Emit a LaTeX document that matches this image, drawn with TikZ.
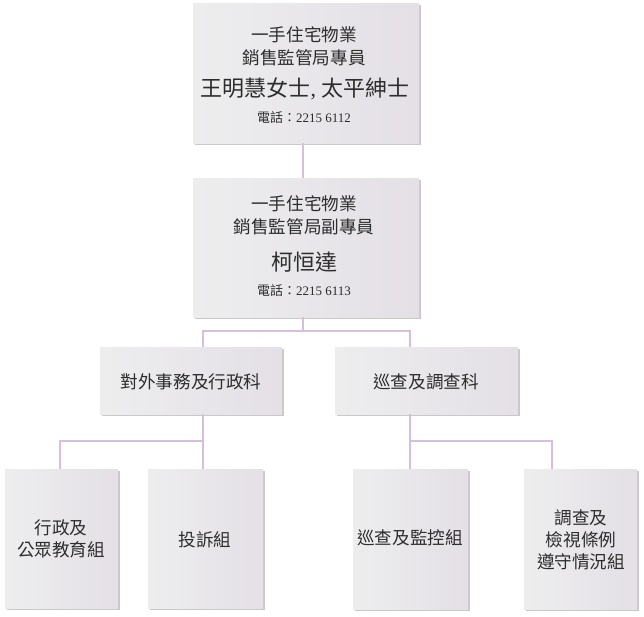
\documentclass[tikz,border=0pt]{standalone}
\usepackage{fontspec}
\setmainfont{Liberation Serif}
\newfontfamily\cjk{Noto Sans CJK TC}
\usetikzlibrary{shadows}
\definecolor{conn}{RGB}{214,190,220}
\definecolor{boxl}{RGB}{237,237,238}
\definecolor{boxr}{RGB}{228,224,230}
\definecolor{txt}{RGB}{45,45,45}
\tikzset{
  orgbox/.style={rectangle, anchor=north west, inner sep=0pt, left color=boxl, right color=boxr,
    drop shadow={shadow xshift=1.5pt, shadow yshift=-1.5pt, opacity=0.3, fill=black!70}},
  lbl/.style={text=txt, align=center, inner sep=0pt, font=\cjk\fontsize{17.6}{22}\selectfont},
  big/.style={text=txt, inner sep=0pt, font=\cjk\fontsize{22}{24}\selectfont},
  tel/.style={text=txt, inner sep=0pt, font=\fontsize{13}{15}\selectfont},
  link/.style={draw=conn, line width=2pt}
}
\begin{document}
\begin{tikzpicture}[x=1pt,y=-1pt]
\useasboundingbox (0,0) rectangle (644,616);
% connectors
\coordinate (j0) at (303,331);
\coordinate (jl) at (203,441);
\coordinate (jr) at (410,441);
% boxes
\node[orgbox, minimum width=226pt, minimum height=140pt] (top) at (193,3) {};
\node[orgbox, minimum width=226pt, minimum height=139pt] (dep) at (193,178) {};
\node[orgbox, minimum width=182pt, minimum height=67pt] (ml) at (100,347) {};
\node[orgbox, minimum width=183pt, minimum height=67pt] (mr) at (335,347) {};
\node[orgbox, minimum width=113pt, minimum height=139pt] (b1) at (5,469) {};
\node[orgbox, minimum width=115pt, minimum height=139pt] (b2) at (148,469) {};
\node[orgbox, minimum width=115pt, minimum height=140pt] (b3) at (353,469) {};
\node[orgbox, minimum width=113pt, minimum height=140pt] (b4) at (524,469) {};
% links
\draw[link] (top.south -| j0) -- (dep.north -| j0);
\draw[link] (dep.south -| j0) -- (j0);
\draw[link] (ml.north -| jl) |- (j0) -| (mr.north -| jr);
\draw[link] (ml.south -| jl) -- (jl);
\draw[link] (b1.north -| 60,0) |- (jl) -- (b2.north -| jl);
\draw[link] (mr.south -| jr) -- (jr);
\draw[link] (b3.north -| jr) -- (jr) -| (b4.north -| 552,0);
% texts
\node[lbl] (t1) at (304,35) {一手住宅物業};
\node[lbl] (t2) at (304,58) {銷售監管局專員};
\node[big] (t3) at (305,89) {王明慧女士\rmfamily, \cjk 太平紳士};
\node[tel] (t4) at (304,118) {{\cjk 電話：}2215 6112};
\node[lbl] (d1) at (304,204) {一手住宅物業};
\node[lbl] (d2) at (304,227) {銷售監管局副專員};
\node[big] (d3) at (304,262) {柯恒達};
\node[tel] (d4) at (304,291) {{\cjk 電話：}2215 6113};
\node[lbl] (ml t) at (191,382) {對外事務及行政科};
\node[lbl] (mr t) at (426,382) {巡查及調查科};
\node[lbl] (b1 t) at (61,538.5) {行政及\\公眾教育組};
\node[lbl] (b2 t) at (205,540) {投訴組};
\node[lbl] (b3 t) at (410,538) {巡查及監控組};
\node[lbl] (b4 t) at (581,540) {調查及\\檢視條例\\遵守情況組};
\end{tikzpicture}
\end{document}
